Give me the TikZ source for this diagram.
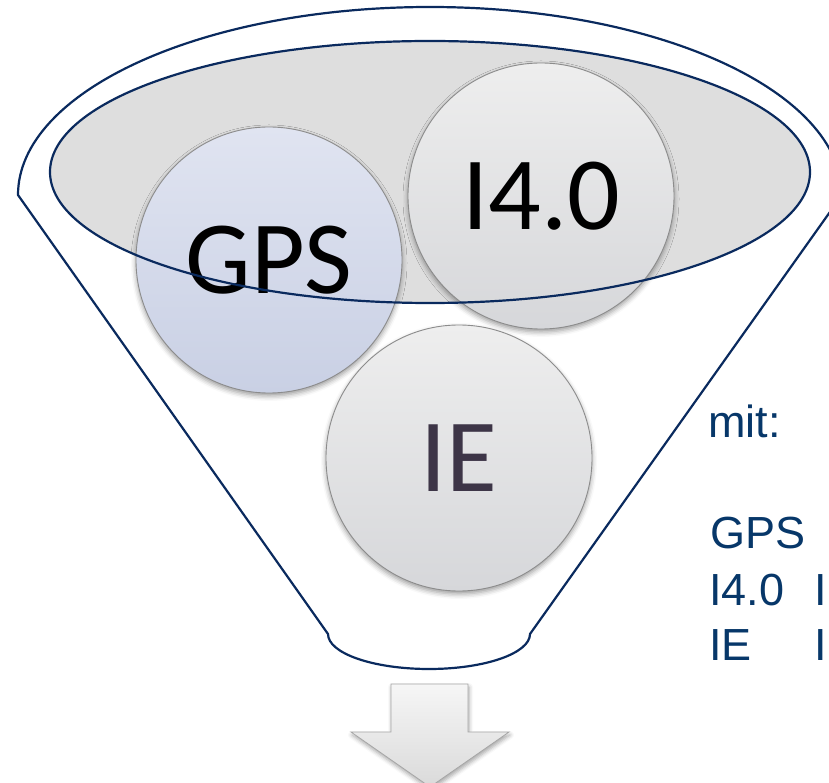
\documentclass[tikz,border=0pt]{standalone}
\usepackage{fontspec}
\newfontfamily\bubblefont{Carlito}
\newfontfamily\legendfont{Liberation Sans}
\usetikzlibrary{shadows.blur}

\definecolor{funnelnavy}{HTML}{0A2A5E}
\definecolor{legendblue}{HTML}{073769}
\definecolor{rimfill}{HTML}{DEDEDE}
\definecolor{bubbleedge}{HTML}{8C8C8C}
\definecolor{gpstop}{HTML}{E0E4F1}
\definecolor{gpsbottom}{HTML}{C9D0E4}
\definecolor{greytop}{HTML}{EEEEEE}
\definecolor{greybottom}{HTML}{D6D7DA}
\definecolor{ietext}{HTML}{3D3547}
\definecolor{arrowtop}{HTML}{F6F6F6}
\definecolor{arrowbottom}{HTML}{DADADA}
\definecolor{arrowedge}{HTML}{A6A6A6}

\begin{document}
\begin{tikzpicture}[x=1pt,y=1pt,
  funnel/.style={draw=funnelnavy, line width=2.2pt, line join=round},
  bubble/.style={circle, minimum size=266pt, inner sep=0pt,
    draw=bubbleedge, line width=0.9pt,
    blur shadow={shadow xshift=0pt, shadow yshift=-3pt,
      shadow blur radius=5pt, shadow opacity=40},
    font=\bubblefont\fontsize{104}{104}\selectfont},
  gpsbubble/.style={bubble, top color=gpstop, bottom color=gpsbottom, text=black},
  greybubble/.style={bubble, top color=greytop, bottom color=greybottom},
  legend/.style={anchor=base west, inner sep=0pt, text=legendblue,
    font=\legendfont\fontsize{45}{54}\selectfont},
  downarrow/.style={draw=arrowedge, line width=0.8pt, top color=arrowtop,
    bottom color=arrowbottom,
    blur shadow={shadow xshift=1pt, shadow yshift=-3pt,
      shadow blur radius=4pt, shadow opacity=35}}]

\useasboundingbox (0,0) rectangle (829,782);
\clip (0,0) rectangle (829,782);

% grey rim surface of the funnel
\fill[rimfill] (430,610) ellipse[x radius=380, y radius=131];

% outer funnel outline: wide top, tapered sides, rounded spout
\draw[funnel] (18,587) arc[start angle=180, end angle=0, x radius=412, y radius=188]
  -- (530,148) arc[start angle=0, end angle=-180, x radius=101, y radius=35]
  -- cycle;

% the three bubbles
\node[gpsbubble] (gps) at (269,522) {GPS};
\node[greybubble, text=black] (i40) at (541,586) {I4.0};
\node[greybubble, text=ietext] (ie) at (459,324) {IE};

% rim outline drawn over the bubbles
\draw[funnel] (430,610) ellipse[x radius=380, y radius=131];

% output arrow below the spout
\path[downarrow] (391,98) -- (468,98) -- (468,50) -- (509,50) -- (430,-5)
  -- (351,50) -- (391,50) -- cycle;

% legend
\node[legend] (mit) at (708,344) {mit:};
\node[legend] (kgps) at (710,234) {GPS};
\node[legend] (ki40) at (709,177) {I4.0};
\node[legend] (kie) at (709,122) {IE};
\node[legend] (di40) at (814,177) {I};
\node[legend] (die) at (814,122) {I};
\end{tikzpicture}
\end{document}
